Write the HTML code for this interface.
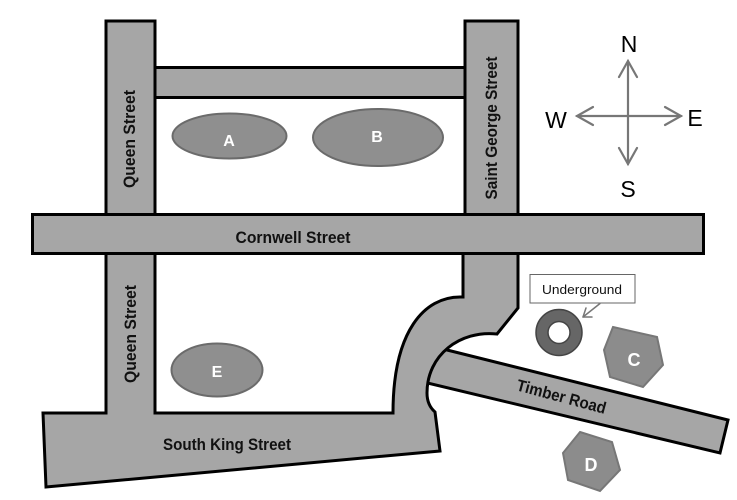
<!DOCTYPE html>
<html>
<head>
<meta charset="utf-8">
<style>
html,body{margin:0;padding:0;background:#fff;}
svg{display:block;}
text{font-family:"Liberation Sans",sans-serif;}
</style>
</head>
<body>
<svg width="737" height="500" viewBox="0 0 737 500" xmlns="http://www.w3.org/2000/svg">
  <rect width="737" height="500" fill="#fff"/>
  <!-- top connecting bar -->
  <rect x="150" y="67.5" width="320" height="30" fill="#a6a6a6" stroke="#000" stroke-width="3"/>
  <!-- Queen upper -->
  <rect x="106" y="21" width="49" height="200" fill="#a6a6a6" stroke="#000" stroke-width="3"/>
  <!-- Saint George upper -->
  <rect x="465" y="21" width="53" height="200" fill="#a6a6a6" stroke="#000" stroke-width="3"/>
  <!-- Timber Road -->
  <polygon points="425,344.5 728,420 720,453 415,380" fill="#a6a6a6" stroke="#000" stroke-width="3" stroke-linejoin="miter"/>
  <!-- South King + curve -->
  <path d="M43,413 L393,413 C393,330 425,297 460,297 L463,297 L463,250 L518,250 L518,308 L497,334 C460,330 427,355 427,393 Q427,405 435,412 L440,451 L46,487 Z" fill="#a6a6a6" stroke="#000" stroke-width="3" stroke-linejoin="miter"/>
  <!-- Queen lower -->
  <rect x="107.5" y="250" width="46" height="165" fill="#a6a6a6"/>
  <line x1="106" y1="250" x2="106" y2="414" stroke="#000" stroke-width="3"/>
  <line x1="155" y1="250" x2="155" y2="414" stroke="#000" stroke-width="3"/>
  <!-- Cornwell -->
  <rect x="32.5" y="214.5" width="671" height="39" fill="#a6a6a6" stroke="#000" stroke-width="3"/>

  <!-- Street labels -->
  <text x="293" y="243" font-size="16.5" font-weight="bold" text-anchor="middle" textLength="115" lengthAdjust="spacingAndGlyphs" fill="#111">Cornwell Street</text>
  <text transform="translate(135,139) rotate(-90)" x="0" y="0" font-size="16.5" font-weight="bold" text-anchor="middle" textLength="98" lengthAdjust="spacingAndGlyphs" fill="#111">Queen Street</text>
  <text transform="translate(136,334) rotate(-90)" x="0" y="0" font-size="16.5" font-weight="bold" text-anchor="middle" textLength="98" lengthAdjust="spacingAndGlyphs" fill="#111">Queen Street</text>
  <text transform="translate(497,128) rotate(-90)" x="0" y="0" font-size="16.5" font-weight="bold" text-anchor="middle" textLength="143" lengthAdjust="spacingAndGlyphs" fill="#111">Saint George Street</text>
  <text x="227" y="450" font-size="16.5" font-weight="bold" text-anchor="middle" textLength="128" lengthAdjust="spacingAndGlyphs" fill="#111">South King Street</text>
  <text transform="translate(560,402) rotate(15)" x="0" y="0" font-size="16.5" font-weight="bold" text-anchor="middle" textLength="92" lengthAdjust="spacingAndGlyphs" fill="#111">Timber Road</text>

  <!-- Ellipses -->
  <ellipse cx="229.5" cy="136" rx="57" ry="22.5" fill="#8f8f8f" stroke="#6b6b6b" stroke-width="2"/>
  <ellipse cx="378" cy="137.5" rx="65" ry="28.5" fill="#8f8f8f" stroke="#6b6b6b" stroke-width="2"/>
  <ellipse cx="217" cy="370" rx="45.5" ry="26.5" fill="#8f8f8f" stroke="#6b6b6b" stroke-width="2"/>
  <text x="229" y="146" font-size="16" font-weight="bold" text-anchor="middle" fill="#fff">A</text>
  <text x="377" y="142" font-size="16" font-weight="bold" text-anchor="middle" fill="#fff">B</text>
  <text x="217" y="377" font-size="16" font-weight="bold" text-anchor="middle" fill="#fff">E</text>

  <!-- Hexagons -->
  <polygon points="613,327 657,337 663,365 643,387 610,377 604,350" fill="#8c8c8c" stroke="#777" stroke-width="2"/>
  <text x="634" y="366" font-size="18" font-weight="bold" text-anchor="middle" fill="#fff">C</text>
  <polygon points="580,432 612,442 620,470 600,491 568,480 563,453" fill="#8c8c8c" stroke="#777" stroke-width="2"/>
  <text x="591" y="471" font-size="18" font-weight="bold" text-anchor="middle" fill="#fff">D</text>

  <!-- Underground -->
  <circle cx="559" cy="332.5" r="23" fill="#666" stroke="#444" stroke-width="1.5"/>
  <circle cx="559" cy="332.5" r="11" fill="#fff" stroke="#444" stroke-width="1.5"/>
  <rect x="530" y="274.5" width="105" height="28.5" fill="#fff" stroke="#666" stroke-width="1"/>
  <text x="582" y="294" font-size="13" text-anchor="middle" textLength="80" lengthAdjust="spacingAndGlyphs" fill="#111">Underground</text>
  <g stroke="#777" stroke-width="1.5" fill="none" stroke-linecap="round" stroke-linejoin="round">
    <line x1="600" y1="303.5" x2="583" y2="317"/>
    <polyline points="586,308 583,317 592,317"/>
  </g>

  <!-- Compass -->
  <g stroke="#777" stroke-width="2.2" fill="none" stroke-linecap="round" stroke-linejoin="miter">
    <line x1="628" y1="61" x2="628" y2="164"/>
    <line x1="577" y1="116" x2="681" y2="116"/>
    <polyline points="619,77 628,61 637,77"/>
    <polyline points="619,148 628,164 637,148"/>
    <polyline points="593,107 577,116 593,125"/>
    <polyline points="665,107 681,116 665,125"/>
  </g>
  <text x="629" y="52" font-size="23" text-anchor="middle" fill="#000">N</text>
  <text x="628" y="197" font-size="23" text-anchor="middle" fill="#000">S</text>
  <text x="556" y="128" font-size="23" text-anchor="middle" fill="#000">W</text>
  <text x="695" y="126" font-size="23" text-anchor="middle" fill="#000">E</text>
</svg>
</body>
</html>
